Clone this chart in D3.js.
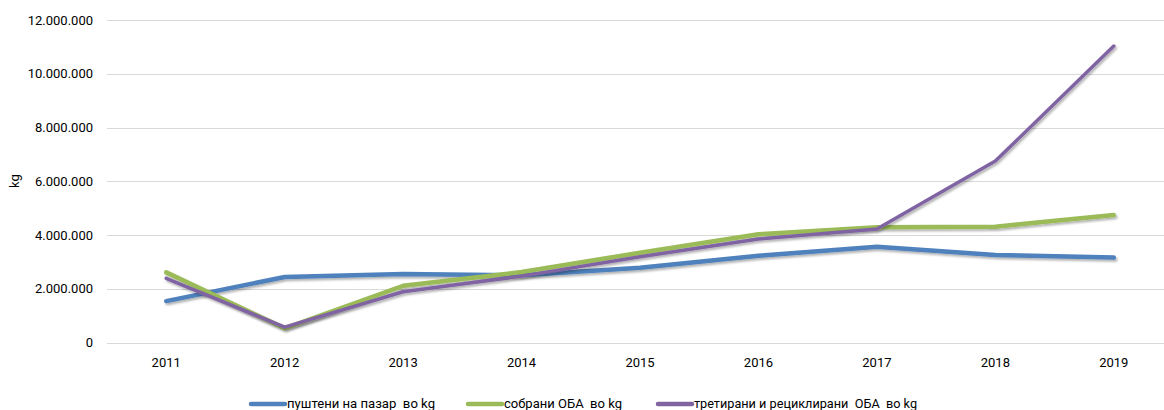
<!DOCTYPE html>
<html>
<head>
<meta charset="utf-8">
<script src="https://cdn.jsdelivr.net/npm/d3@7"></script>
<style>
  body { margin: 0; background: #fff; }
  svg { display: block; font-family: Roboto, "Open Sans", sans-serif; }
</style>
</head>
<body>
<script>
// data
var years = ["2011", "2012", "2013", "2014", "2015", "2016", "2017", "2018", "2019"];
var pushteni = [1540000, 2440000, 2550000, 2500000, 2780000, 3230000, 3560000, 3260000, 3160000];
var sobrani = [2610000, 530000, 2110000, 2620000, 3340000, 4030000, 4290000, 4310000, 4740000];
var tretirani = [2390000, 570000, 1890000, 2470000, 3190000, 3850000, 4220000, 6750000, 11030000];
var seriesNames = ["пуштени на пазар  во kg", "собрани ОБА  во kg", "третирани и рециклирани  ОБА  во kg"];
var yTicks = [0, 2000000, 4000000, 6000000, 8000000, 10000000, 12000000];

var seriesValues = [pushteni, sobrani, tretirani];
var colors = ["#4f81bd", "#9bbb59", "#8064a2"];
var widths = [4.5, 4.5, 3.5];

var widthSvg = 1164;
var heightSvg = 410;
var plotLeft = 107;
var plotRight = 1173;
var plotTop = 20;
var plotBottom = 342.5;

var svg = d3.select("body")
            .append("svg")
            .attr("width", widthSvg)
            .attr("height", heightSvg);

// soft shadow under the lines
var defs = svg.append("defs");
var shadow = defs.append("filter")
                 .attr("id", "shadow")
                 .attr("x", "-5%").attr("y", "-20%")
                 .attr("width", "110%").attr("height", "140%");
shadow.append("feDropShadow")
      .attr("dx", 1.5).attr("dy", 2)
      .attr("stdDeviation", 1.2)
      .attr("flood-color", "#000")
      .attr("flood-opacity", 0.3);

var scaleX = d3.scaleBand()
               .domain(years)
               .range([plotLeft, plotRight]);
var scaleY = d3.scaleLinear()
               .domain([0, 12000000])
               .range([plotBottom, plotTop]);

var fmt = function(v) {
  return d3.format(",")(v).replace(/,/g, ".");
};

// gridlines
svg.append("g")
   .selectAll("line")
   .data(yTicks)
   .enter()
   .append("line")
   .attr("x1", plotLeft)
   .attr("x2", widthSvg)
   .attr("y1", function(d) { return Math.round(scaleY(d)) + 0.5; })
   .attr("y2", function(d) { return Math.round(scaleY(d)) + 0.5; })
   .attr("stroke", "#d9d9d9")
   .attr("stroke-width", 1);

// y axis labels
var yAxis = d3.axisLeft(scaleY)
              .tickValues(yTicks)
              .tickFormat(fmt)
              .tickSize(0)
              .tickPadding(14);
var yg = svg.append("g")
            .attr("transform", "translate(" + plotLeft + ",0)")
            .call(yAxis);
yg.select(".domain").remove();
yg.selectAll("text")
  .attr("font-size", 13)
  .attr("fill", "#000")
  .attr("font-family", "Roboto, Open Sans, sans-serif");

// x axis labels
var xAxis = d3.axisBottom(scaleX).tickSize(0).tickPadding(15);
var xg = svg.append("g")
            .attr("transform", "translate(0," + plotBottom + ")")
            .call(xAxis);
xg.select(".domain").remove();
xg.selectAll("text")
  .attr("font-size", 13)
  .attr("fill", "#000")
  .attr("font-family", "Roboto, Open Sans, sans-serif");

// y axis title
svg.append("text")
   .attr("transform", "translate(19,181) rotate(-90)")
   .style("text-anchor", "middle")
   .attr("font-size", 13)
   .text("kg");

// lines
var line = d3.line()
             .x(function(d, i) { return scaleX(years[i]) + scaleX.bandwidth() / 2; })
             .y(function(d) { return scaleY(d); });

seriesValues.forEach(function(vals, k) {
  svg.append("path")
     .datum(vals)
     .attr("d", line)
     .attr("fill", "none")
     .attr("stroke", colors[k])
     .attr("stroke-width", widths[k])
     .attr("stroke-linejoin", "round")
     .attr("stroke-linecap", "round")
     .attr("filter", "url(#shadow)");
});

// legend
var legendX = [251, 468, 658];
var legendTextW = [148, 118, 223];
var legend = svg.append("g");
seriesNames.forEach(function(name, k) {
  legend.append("line")
        .attr("x1", legendX[k]).attr("x2", legendX[k] + 34)
        .attr("y1", 404).attr("y2", 404)
        .attr("stroke", colors[k])
        .attr("stroke-width", 4.5)
        .attr("stroke-linecap", "round");
  legend.append("text")
        .attr("x", legendX[k] + 36)
        .attr("y", 408)
        .attr("font-size", 13)
        .attr("xml:space", "preserve")
        .attr("textLength", legendTextW[k])
        .attr("lengthAdjust", "spacingAndGlyphs")
        .style("white-space", "pre")
        .text(name);
});
</script>
</body>
</html>
